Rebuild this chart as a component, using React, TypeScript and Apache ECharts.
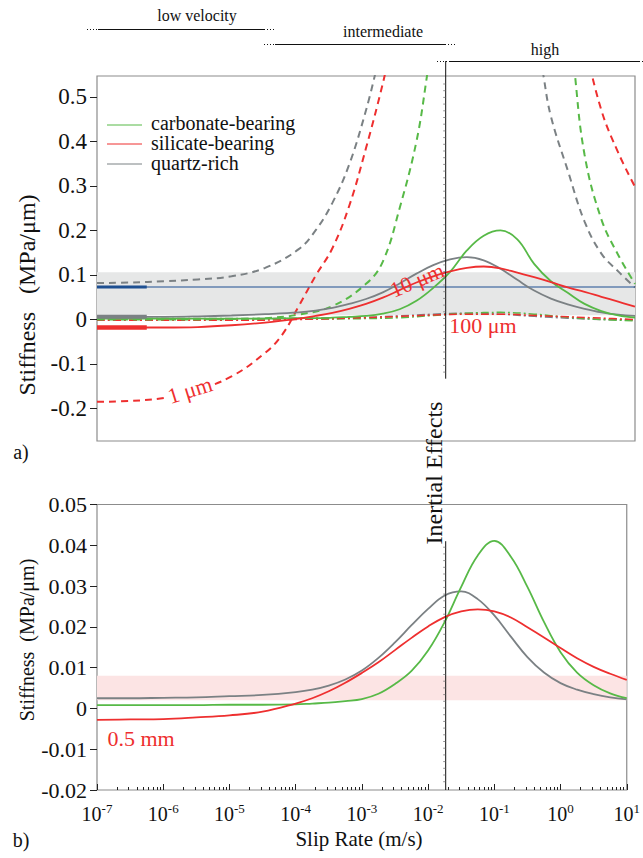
import React, { useEffect, useRef } from "react";
import * as echarts from "echarts";

const F = "'Liberation Serif', 'Times New Roman', serif";
const GREEN = "#57b947";
const RED = "#ee2f2f";
const GRAY = "#7b8184";
const BLUE = "#1d4f91";

// log10 of slip rate (m/s) sample positions for solid curves
const SLIP_LOG = [-7, -6.5, -6, -5.5, -5, -4.5, -4, -3.75, -3.5, -3.25, -3, -2.75, -2.5, -2.25, -2, -1.75, -1.5, -1.25, -1, -0.75, -0.5, -0.25, 0, 0.25, 0.5, 0.75, 1];

// panel a) 10 µm (solid)
const CARB_10UM = [0.002, 0.002, 0.002, 0.002, 0.002, 0.002, 0.003, 0.003, 0.004, 0.006, 0.008, 0.013, 0.023, 0.042, 0.071, 0.107, 0.155, 0.188, 0.2, 0.18, 0.125, 0.086, 0.06, 0.035, 0.019, 0.009, 0.004];
const SIL_10UM = [-0.018, -0.018, -0.018, -0.017, -0.013, -0.007, 0.002, 0.008, 0.015, 0.024, 0.035, 0.049, 0.066, 0.083, 0.097, 0.108, 0.116, 0.119, 0.115, 0.105, 0.095, 0.084, 0.072, 0.062, 0.051, 0.04, 0.029];
const QTZ_10UM = [0.006, 0.006, 0.006, 0.007, 0.009, 0.012, 0.016, 0.02, 0.026, 0.035, 0.046, 0.061, 0.081, 0.103, 0.122, 0.135, 0.14, 0.133, 0.114, 0.089, 0.065, 0.047, 0.034, 0.024, 0.016, 0.011, 0.008];

// panel a) 100 µm (dash-dot)
const DD_LOG = [-7, -6, -5, -4, -3, -2.5, -2, -1.5, -1, -0.5, 0, 0.5, 1];
const CARB_100UM = [0.001, 0.001, 0.001, 0.001, 0.002, 0.004, 0.009, 0.014, 0.016, 0.012, 0.005, 0.0, -0.003];
const SIL_100UM = [-0.002, -0.002, -0.002, 0.0, 0.004, 0.007, 0.01, 0.012, 0.012, 0.009, 0.006, 0.003, 0.0];
const QTZ_100UM = [0.002, 0.002, 0.002, 0.003, 0.005, 0.008, 0.012, 0.014, 0.012, 0.007, 0.003, 0.0, -0.001];

// panel a) 1 µm (dashed), low-velocity branch
const QTZ_1UM_LO_LOG = [-7, -6.5, -6, -5.5, -5, -4.5, -4, -3.75, -3.5, -3.25, -3, -2.85];
const QTZ_1UM_LO = [0.082, 0.083, 0.086, 0.09, 0.097, 0.116, 0.158, 0.2, 0.262, 0.348, 0.47, 0.56];
const SIL_1UM_LO_LOG = [-7, -6.5, -6, -5.5, -5, -4.5, -4.25, -4, -3.75, -3.5, -3.25, -3, -2.75, -2.65];
const SIL_1UM_LO = [-0.185, -0.183, -0.176, -0.158, -0.128, -0.075, -0.035, 0.03, 0.098, 0.16, 0.255, 0.385, 0.53, 0.6];
const CARB_1UM_LO_LOG = [-7, -6, -5, -4.5, -4, -3.5, -3, -2.75, -2.5, -2.25, -2.1, -2.0];
const CARB_1UM_LO = [0.0, 0.0, 0.001, 0.003, 0.011, 0.03, 0.08, 0.13, 0.25, 0.4, 0.54, 0.65];

// panel a) 1 µm (dashed), high-velocity branch
const QTZ_1UM_HI_LOG = [-0.45, -0.36, -0.25, 0, 0.25, 0.5, 0.75, 1];
const QTZ_1UM_HI = [0.64, 0.547, 0.456, 0.335, 0.22, 0.148, 0.108, 0.072];
const CARB_1UM_HI_LOG = [0.05, 0.1, 0.25, 0.5, 0.75, 1];
const CARB_1UM_HI = [0.65, 0.56, 0.37, 0.225, 0.145, 0.08];
const SIL_1UM_HI_LOG = [0.25, 0.5, 0.75, 1];
const SIL_1UM_HI = [0.62, 0.47, 0.375, 0.298];

// panel a) measured levels (thick marks) and reference line
const MEAS_LOG = [-7, -6.26];
const QTZ_MEAS = 0.006;
const SIL_MEAS = -0.018;
const REF_LEVEL = 0.073;
const GRAY_BAND = [0.0095, 0.106];

// panel b) 0.5 mm
const CARB_05MM = [0.0008, 0.0008, 0.0008, 0.0008, 0.0009, 0.0009, 0.001, 0.0012, 0.0014, 0.0018, 0.0023, 0.0036, 0.006, 0.0092, 0.0142, 0.0212, 0.0298, 0.0375, 0.0411, 0.0372, 0.0298, 0.0212, 0.0138, 0.0088, 0.0057, 0.0037, 0.0025];
const SIL_05MM = [-0.0028, -0.0027, -0.0026, -0.0022, -0.0017, -0.0008, 0.0012, 0.0025, 0.0042, 0.0063, 0.0087, 0.0113, 0.0143, 0.0173, 0.0201, 0.0224, 0.0238, 0.0243, 0.0238, 0.0223, 0.0199, 0.0174, 0.0148, 0.0123, 0.0102, 0.0085, 0.007];
const QTZ_05MM = [0.0025, 0.0025, 0.0026, 0.0027, 0.003, 0.0033, 0.004, 0.0046, 0.0056, 0.0071, 0.0093, 0.0124, 0.0162, 0.0204, 0.0244, 0.0277, 0.0287, 0.0268, 0.0228, 0.0176, 0.0126, 0.0088, 0.0062, 0.0046, 0.0035, 0.0027, 0.0022];
const PINK_BAND = [0.002, 0.008];

const TOP_RANGE = [-0.273, 0.547];
const TOP_TICKS = [-0.2, -0.1, 0, 0.1, 0.2, 0.3, 0.4, 0.5];
const BOT_RANGE = [-0.02, 0.05];
const X_RANGE = [-7, 1];
const INERTIAL_LOG = -1.815;

const MINOR_LOG: number[] = [];
for (let n = -7; n < 1; n++) for (let k = 2; k <= 9; k++) MINOR_LOG.push(n + Math.log10(k));

function pairs(xs: number[], ys: number[]) {
  return xs.map((x, i) => [x, ys[i]]);
}

function line(xs: number[], ys: number[], color: string, type: any, width: number, grid: number, z = 3, smooth: any = 0.4) {
  return {
    type: "line",
    xAxisIndex: grid === 0 ? 0 : 1,
    yAxisIndex: grid,
    data: pairs(xs, ys),
    symbol: "none",
    smooth,
    silent: true,
    z,
    lineStyle: { color, width, type },
  };
}

export default function App() {
  const ref = useRef<HTMLDivElement>(null);
  useEffect(() => {
    const chart = echarts.init(ref.current!, null, { renderer: "svg" });
    const dash = [7, 5];
    const dashDot = [8, 3, 2, 3];
    const noLine = { show: false, onZero: false };
    const option: any = {
      animation: false,
      backgroundColor: "#fff",
      grid: [
        { left: 97, top: 76, width: 538, height: 365, show: true, borderColor: "#8c8c8c", borderWidth: 1.2 },
        { left: 97, top: 504.5, width: 538, height: 285.5, show: true, borderColor: "#8c8c8c", borderWidth: 1.2 },
      ],
      xAxis: [
        { type: "value", gridIndex: 0, min: X_RANGE[0], max: X_RANGE[1], interval: 1, axisLine: noLine, axisTick: { show: false }, axisLabel: { show: false }, splitLine: { show: false } },
        {
          type: "value", gridIndex: 1, position: "bottom", min: X_RANGE[0], max: X_RANGE[1], interval: 1,
          axisLine: noLine, splitLine: { show: false },
          axisTick: { show: true, inside: true, length: 6, lineStyle: { color: "#222", width: 1 } },
          axisLabel: {
            margin: 12,
            formatter: (v: number) => `{b|10}{s|${Math.round(v)}}`,
            rich: {
              b: { fontSize: 20, fontFamily: F, color: "#111", lineHeight: 22, verticalAlign: "bottom" },
              s: { fontSize: 13, fontFamily: F, color: "#111", lineHeight: 13, verticalAlign: "top" },
            },
          },
        },
        {
          type: "value", gridIndex: 1, position: "bottom", min: X_RANGE[0], max: X_RANGE[1],
          axisLine: noLine, splitLine: { show: false }, axisLabel: { show: false },
          axisTick: { show: true, inside: true, length: 3, customValues: MINOR_LOG, lineStyle: { color: "#222", width: 1 } },
        },
      ],
      yAxis: [
        {
          type: "value", gridIndex: 0, position: "left", min: TOP_RANGE[0], max: TOP_RANGE[1],
          axisLine: noLine, splitLine: { show: false },
          axisTick: { show: true, length: 7, customValues: TOP_TICKS, lineStyle: { color: "#222", width: 1 } },
          axisLabel: {
            customValues: TOP_TICKS, margin: 10, fontSize: 23, fontFamily: F, color: "#111",
            formatter: (v: number) => String(Math.round(v * 10) / 10),
          },
        },
        {
          type: "value", gridIndex: 1, position: "left", min: BOT_RANGE[0], max: BOT_RANGE[1], interval: 0.01,
          axisLine: noLine, splitLine: { show: false },
          axisTick: { show: true, length: 7, lineStyle: { color: "#222", width: 1 } },
          axisLabel: {
            margin: 10, fontSize: 22, fontFamily: F, color: "#111",
            formatter: (v: number) => String(Math.round(v * 100) / 100),
          },
        },
      ],
      series: [
        {
          type: "line", xAxisIndex: 0, yAxisIndex: 0, data: [], symbol: "none", silent: true, z: 1,
          markArea: { silent: true, itemStyle: { color: "#e6e7e7" }, data: [[{ xAxis: X_RANGE[0], yAxis: GRAY_BAND[0] }, { xAxis: X_RANGE[1], yAxis: GRAY_BAND[1] }]] },
        },
        {
          type: "line", xAxisIndex: 1, yAxisIndex: 1, data: [], symbol: "none", silent: true, z: 1,
          markArea: { silent: true, itemStyle: { color: "#fce4e4" }, data: [[{ xAxis: X_RANGE[0], yAxis: PINK_BAND[0] }, { xAxis: X_RANGE[1], yAxis: PINK_BAND[1] }]] },
        },
        // 100 um dash-dot
        line(DD_LOG, QTZ_100UM, GRAY, dashDot, 1.5, 0, 2),
        line(DD_LOG, CARB_100UM, GREEN, dashDot, 1.5, 0, 2),
        line(DD_LOG, SIL_100UM, RED, dashDot, 1.5, 0, 2),
        // 1 um dashed
        line(QTZ_1UM_LO_LOG, QTZ_1UM_LO, GRAY, dash, 2, 0, 3),
        line(SIL_1UM_LO_LOG, SIL_1UM_LO, RED, dash, 2, 0, 3),
        line(CARB_1UM_LO_LOG, CARB_1UM_LO, GREEN, dash, 2, 0, 3),
        line(QTZ_1UM_HI_LOG, QTZ_1UM_HI, GRAY, dash, 2, 0, 3),
        line(CARB_1UM_HI_LOG, CARB_1UM_HI, GREEN, dash, 2, 0, 3),
        line(SIL_1UM_HI_LOG, SIL_1UM_HI, RED, dash, 2, 0, 3),
        // reference level
        line([X_RANGE[0], X_RANGE[1]], [REF_LEVEL, REF_LEVEL], BLUE, "solid", 1.2, 0, 4, false),
        line(MEAS_LOG, [REF_LEVEL, REF_LEVEL], BLUE, "solid", 3, 0, 4, false),
        // 10 um solid
        line(SLIP_LOG, QTZ_10UM, GRAY, "solid", 1.8, 0, 5),
        line(SLIP_LOG, CARB_10UM, GREEN, "solid", 1.8, 0, 5),
        line(SLIP_LOG, SIL_10UM, RED, "solid", 1.8, 0, 5),
        line(MEAS_LOG, [QTZ_MEAS, QTZ_MEAS], GRAY, "solid", 4, 0, 6, false),
        line(MEAS_LOG, [SIL_MEAS, SIL_MEAS], RED, "solid", 4.5, 0, 6, false),
        // 0.5 mm
        line(SLIP_LOG, QTZ_05MM, GRAY, "solid", 1.8, 1, 5),
        line(SLIP_LOG, CARB_05MM, GREEN, "solid", 1.8, 1, 5),
        line(SLIP_LOG, SIL_05MM, RED, "solid", 1.8, 1, 5),
      ],
    };
    chart.setOption(option);

    const xi = chart.convertToPixel({ xAxisIndex: 0 }, INERTIAL_LOG) as number;
    const topEnd = chart.convertToPixel({ yAxisIndex: 0 }, -0.133) as number;
    const botStart = chart.convertToPixel({ yAxisIndex: 1 }, 0.041) as number;
    const botEnd = chart.convertToPixel({ yAxisIndex: 1 }, BOT_RANGE[0]) as number;

    const seg = (x1: number, y1: number, x2: number, y2: number, stroke: string, w = 1, dashArr?: number[]) => ({
      type: "line", silent: true, z: 50,
      shape: { x1, y1, x2, y2 },
      style: { stroke, lineWidth: w, lineDash: dashArr },
    });
    const txt = (text: string, x: number, y: number, size: number, fill = "#111", extra: any = {}) => ({
      type: "text", silent: true, z: 60, x, y,
      style: { text, fill, font: `${size}px ${F}`, textAlign: "center", textVerticalAlign: "middle", ...extra.style },
      ...(extra.rotation !== undefined ? { rotation: extra.rotation } : {}),
    });
    const dots = [1, 2];
    const inertialTicks: any[] = [];
    for (let y = 84; y < topEnd - 2; y += 6.7) inertialTicks.push(seg(xi - 2.5, y, xi, y, "#666", 0.7));
    for (let y = botStart + 6; y < botEnd - 2; y += 6.7) inertialTicks.push(seg(xi - 2.5, y, xi, y, "#666", 0.7));
    const graphic: any[] = [
      // header bands
      txt("low velocity", 197, 15, 16),
      seg(87, 29.5, 98, 29.5, "#111", 1, dots),
      seg(98, 29.5, 264, 29.5, "#111", 1.2),
      seg(264, 29.5, 274, 29.5, "#111", 1, dots),
      txt("intermediate", 383, 31, 16),
      seg(264, 44.5, 275, 44.5, "#111", 1, dots),
      seg(275, 44.5, 445, 44.5, "#111", 1.2),
      seg(445, 44.5, 455, 44.5, "#111", 1, dots),
      txt("high", 545, 49, 16),
      seg(437, 61.5, 449, 61.5, "#111", 1, dots),
      seg(449, 61.5, 639, 61.5, "#111", 1.2),
      seg(639, 61.5, 643, 61.5, "#111", 1, dots),
      // inertial effects
      seg(xi, 61, xi, topEnd, "#111", 1),
      seg(xi, botStart, xi, botEnd, "#111", 1),
      ...inertialTicks,
      txt("Inertial Effects", xi - 12, 473, 24, "#111", { rotation: Math.PI / 2 }),
      // legend
      seg(107, 125, 142, 125, GREEN, 1),
      seg(107, 144, 142, 144, RED, 1),
      seg(107, 164, 142, 164, GRAY, 1),
      txt("carbonate-bearing", 151, 123, 20, "#111", { style: { textAlign: "left" } }),
      txt("silicate-bearing", 151, 143, 20, "#111", { style: { textAlign: "left" } }),
      txt("quartz-rich", 151, 163, 20, "#111", { style: { textAlign: "left" } }),
      // curve annotations
      txt("1 μm", 190, 390, 22, RED, { rotation: 0.3, style: { backgroundColor: "#fff", padding: [0, 2] } }),
      txt("10 μm", 417, 280, 22, RED, { rotation: 0.4 }),
      txt("100 μm", 483, 325, 22, RED),
      txt("0.5 mm", 141, 738, 22, RED),
      // axis titles
      txt("Stiffness   (MPa/μm)", 27, 295, 24, "#111", { rotation: Math.PI / 2 }),
      txt("Stiffness  (MPa/μm)", 27, 640, 20, "#111", { rotation: Math.PI / 2 }),
      txt("Slip Rate (m/s)", 359, 839, 21),
      txt("a)", 21, 452, 20),
      txt("b)", 21, 840, 20),
    ];
    chart.setOption({ graphic });
    return () => chart.dispose();
  }, []);
  return <div ref={ref} style={{ position: "fixed", left: 0, top: 0, width: 643, height: 858, background: "#fff" }} />;
}
